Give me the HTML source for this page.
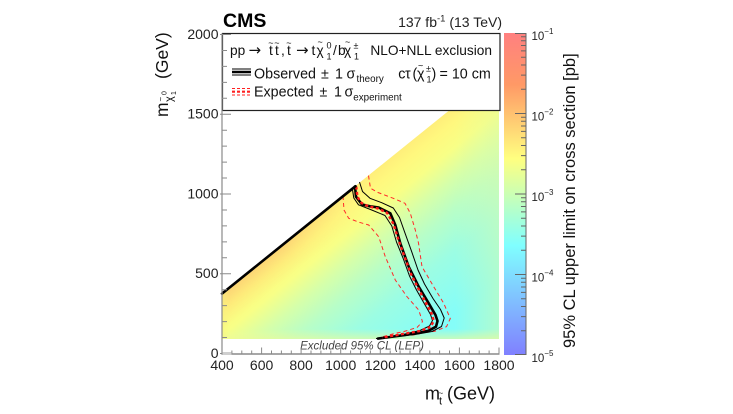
<!DOCTYPE html>
<html><head><meta charset="utf-8"><style>
html,body{margin:0;padding:0;background:#fff;}
svg{display:block;font-family:"Liberation Sans",Arial,sans-serif;}
</style></head><body>
<svg width="733" height="414" viewBox="0 0 733 414" xmlns="http://www.w3.org/2000/svg">
<defs>
<clipPath id="reg"><polygon points="222,293.4 499,70.3 499,339 222,339"/></clipPath>
<linearGradient id="field" gradientUnits="userSpaceOnUse" x1="340.7" y1="197.7" x2="441.8" y2="323.1">
<stop offset="0" stop-color="rgb(255,238,122)"/>
<stop offset="0.08" stop-color="rgb(255,248,126)"/>
<stop offset="0.2" stop-color="rgb(248,255,134)"/>
<stop offset="0.35" stop-color="rgb(213,255,170)"/>
<stop offset="0.5" stop-color="rgb(184,254,199)"/>
<stop offset="0.7" stop-color="rgb(156,253,227)"/>
<stop offset="1" stop-color="rgb(133,253,248)"/>
</linearGradient>
<linearGradient id="orange" gradientUnits="userSpaceOnUse" x1="340.7" y1="197.7" x2="441.8" y2="323.1">
<stop offset="0" stop-color="rgb(252,208,116)" stop-opacity="0.9"/>
<stop offset="0.09" stop-color="rgb(252,218,118)" stop-opacity="0.4"/>
<stop offset="0.18" stop-color="rgb(252,230,120)" stop-opacity="0"/>
</linearGradient>
<linearGradient id="fadeDiag" gradientUnits="userSpaceOnUse" x1="281.4" y1="245.5" x2="350.7" y2="189.7">
<stop offset="0" stop-color="#fff"/>
<stop offset="1" stop-color="#000"/>
</linearGradient>
<mask id="orMask" maskUnits="userSpaceOnUse" x="200" y="20" width="320" height="340">
<rect x="200" y="20" width="320" height="340" fill="url(#fadeDiag)"/>
</mask>
<linearGradient id="rightov" gradientUnits="userSpaceOnUse" x1="455" y1="0" x2="499" y2="0">
<stop offset="0" stop-color="rgb(228,250,160)" stop-opacity="0"/>
<stop offset="1" stop-color="rgb(228,250,160)" stop-opacity="0.45"/>
</linearGradient>
<linearGradient id="botov" gradientUnits="userSpaceOnUse" x1="0" y1="329" x2="0" y2="339">
<stop offset="0" stop-color="rgb(240,250,150)" stop-opacity="0"/>
<stop offset="1" stop-color="rgb(240,250,150)" stop-opacity="0.6"/>
</linearGradient>
<linearGradient id="leftov" gradientUnits="userSpaceOnUse" x1="222" y1="0" x2="230" y2="0">
<stop offset="0" stop-color="rgb(245,245,130)" stop-opacity="0.5"/>
<stop offset="1" stop-color="rgb(245,245,130)" stop-opacity="0"/>
</linearGradient>
<linearGradient id="cbar" x1="0" y1="0" x2="0" y2="1">
<stop offset="0" stop-color="rgb(255,128,128)"/>
<stop offset="0.16" stop-color="rgb(255,153,102)"/>
<stop offset="0.39" stop-color="rgb(255,255,128)"/>
<stop offset="0.66" stop-color="rgb(128,255,255)"/>
<stop offset="1" stop-color="rgb(128,128,255)"/>
</linearGradient>
</defs>

<!-- colored field -->
<g clip-path="url(#reg)">
<rect x="222" y="60" width="277" height="280" fill="url(#field)"/>
<rect x="222" y="60" width="277" height="280" fill="url(#orange)" mask="url(#orMask)"/>
<rect x="222" y="60" width="277" height="280" fill="url(#rightov)"/>
<rect x="222" y="60" width="277" height="280" fill="url(#botov)"/>
<rect x="222" y="60" width="277" height="280" fill="url(#leftov)"/>
</g>

<!-- LEP text -->
<text x="362" y="349.5" font-size="11.5" font-style="italic" fill="#444" text-anchor="middle">Excluded 95% CL (LEP)</text>

<!-- expected +-1 sigma (thin red dashed) -->
<g fill="none" stroke="#ff2a2a" stroke-width="1" stroke-dasharray="4 3" stroke-linejoin="round">
<polyline points="368.5,175.6 370.5,188.3 378,192.5 393.3,198.3 405,203.3 410.3,213.3 415.3,230 418.5,243 422,266.7 433.7,286.7 443.7,303.3 450.3,318.5 446.5,326.7 435,331.2 422,333 413.3,335 395,336.2 383,337.5"/>
<polyline points="343,196 344,210 348.7,218.3 358.3,222 368.7,225 378.7,236.7 385.3,256.7 395.3,280 407,296.7 418.7,310 422.5,321.7 417,327.5 403.3,331.7 395.3,333.3 380,337.5"/>
</g>
<!-- theory band (thin black) -->
<g fill="none" stroke="#000" stroke-width="1" stroke-linejoin="round">
<polyline points="352.3,188.5 353.8,198 358.5,204.8 371.7,210 385,215.5 391.8,226 396.5,242 403,258 409.5,276 416.5,290 424.5,304 430.5,314.5 432.5,320.5 429.5,326 420,330.5 405,334 385,337.5 376,338.5"/>
<polyline points="359.5,182 362.5,191.5 370,198.3 381.7,202.7 393.3,208 399.5,217.5 404.5,231.7 411.7,251.7 418,270 424.5,284 433,298.5 440.5,309.5 444.2,318 441.5,326.5 432,331.5 415,334.5 395,336.5 380,338.3"/>
</g>
<!-- observed (thick black) -->
<polyline fill="none" stroke="#000" stroke-width="2.6" stroke-linejoin="round" stroke-linecap="round" points="355,186.5 356,196.7 362,204.5 370,206.3 378.7,207.5 390.3,213.3 395.3,225 400.3,243.3 408.7,266.7 418.7,286.7 428.7,303.3 435.5,315 437.5,321 436,326.7 428.7,330.7 420,332.5 405.3,335 390,337 378,338.6"/>
<!-- expected (thick red dashed) -->
<polyline fill="none" stroke="#ff1a1a" stroke-width="2.4" stroke-dasharray="3 2.5" stroke-linejoin="round" points="356.2,186.5 357.5,197 361.5,203 368.3,206.3 378,208.5 387,212.8 393.5,224 398.5,240 405,258 411,274 418,288 426,303 431.8,314 433.8,321 430.5,327 420,331 400,334.5 382,337.6"/>

<!-- diagonal -->
<line x1="222" y1="293.6" x2="355.5" y2="186.2" stroke="#000" stroke-width="2.6" stroke-linecap="round"/>

<!-- legend box -->
<rect x="222.5" y="33.5" width="277.5" height="77" fill="#fff" stroke="#222" stroke-width="1.2"/>
<g font-size="13.7" fill="#111">
<text x="230" y="55">pp</text>
<text x="248.5" y="55" font-family="'DejaVu Sans',sans-serif" font-size="15">→</text>
<text x="269" y="55">t</text><text x="275" y="55">t</text>
<text x="268.3" y="46" font-size="9">~</text><text x="274.3" y="46" font-size="9">~</text>
<text x="281" y="55">,</text>
<text x="287" y="55">t</text><text x="286.3" y="46" font-size="9">~</text>
<text x="296" y="55" font-family="'DejaVu Sans',sans-serif" font-size="15">→</text>
<text x="311.5" y="55">t</text>
<text x="316.5" y="55">χ</text><text x="317.5" y="45" font-size="9">~</text>
<text x="326.5" y="48.5" font-size="9">0</text><text x="326.5" y="59.5" font-size="9">1</text>
<text x="333" y="55">/</text>
<text x="338" y="55">b</text>
<text x="344" y="55">χ</text><text x="345" y="45" font-size="9">~</text>
<text x="353.5" y="48.5" font-size="9">±</text><text x="354" y="59.5" font-size="9">1</text>
<text x="492" y="55" text-anchor="end">NLO+NLL exclusion</text>
</g>
<!-- legend symbols -->
<g stroke="#000">
<line x1="232" y1="69" x2="251" y2="69" stroke-width="1"/>
<line x1="232" y1="72" x2="251" y2="72" stroke-width="2.4"/>
<line x1="232" y1="75" x2="251" y2="75" stroke-width="1"/>
</g>
<g stroke="#ff2020" stroke-dasharray="3 2">
<line x1="232" y1="88.5" x2="251" y2="88.5" stroke-width="1"/>
<line x1="232" y1="91.7" x2="251" y2="91.7" stroke-width="2.2"/>
<line x1="232" y1="95" x2="251" y2="95" stroke-width="1"/>
</g>
<g font-size="14.3" fill="#111">
<text x="254" y="78.3">Observed</text>
<text x="321" y="78.3">±</text>
<text x="335" y="78.3">1</text>
<text x="346.5" y="78.3">σ</text>
<text x="356.5" y="82" font-size="9.8">theory</text>
<text x="398.3" y="78.3">c</text>
<text x="405" y="78.3">τ</text>
<text x="412.5" y="78.3">(</text>
<text x="417" y="78.3">χ</text><text x="418" y="68.5" font-size="9">~</text>
<text x="426" y="71.5" font-size="9">±</text><text x="426.5" y="82.5" font-size="9">1</text>
<text x="431.5" y="78.3">)</text>
<text x="439.5" y="78.3">= 10 cm</text>
<text x="254" y="96.3">Expected</text>
<text x="319.5" y="96.3">±</text>
<text x="334" y="96.3">1</text>
<text x="344.5" y="96.3">σ</text>
<text x="353.3" y="100.3" font-size="9.8">experiment</text>
</g>

<!-- axes -->
<g stroke="#8a8a8a" fill="none">
<line x1="222" y1="33.5" x2="222" y2="354.5" stroke-width="1.2"/>
<line x1="221.5" y1="354" x2="499.5" y2="354" stroke-width="1.5"/>
<path stroke-width="1" d="M220,353.5H231M220,273.75H231M220,194H231M220,114.25H231M220,34.5H231"/>
<path stroke-width="1" d="M222,337.55h5M222,321.6h5M222,305.65h5M222,289.7h5M222,257.8h5M222,241.85h5M222,225.9h5M222,209.95h5M222,178.05h5M222,162.1h5M222,146.15h5M222,130.2h5M222,98.3h5M222,82.35h5M222,66.4h5M222,50.45h5"/>
<path stroke-width="1" d="M222,354V347.5M261.6,354V347.5M301.1,354V347.5M340.7,354V347.5M380.3,354V347.5M419.9,354V347.5M459.4,354V347.5M499,354V347.5"/>
<path stroke-width="1" d="M231.9,354v-3.5M241.8,354v-3.5M251.7,354v-3.5M271.5,354v-3.5M281.4,354v-3.5M291.3,354v-3.5M311,354v-3.5M320.9,354v-3.5M330.8,354v-3.5M350.6,354v-3.5M360.5,354v-3.5M370.4,354v-3.5M390.2,354v-3.5M400.1,354v-3.5M410,354v-3.5M429.8,354v-3.5M439.6,354v-3.5M449.5,354v-3.5M469.3,354v-3.5M479.2,354v-3.5M489.1,354v-3.5"/>
</g>
<rect x="222.5" y="352" width="9" height="3" fill="#cfcfcf"/>

<!-- tick labels -->
<g font-size="14" fill="#222" text-anchor="end">
<text x="218.5" y="39">2000</text>
<text x="218.5" y="118.7">1500</text>
<text x="218.5" y="198.5">1000</text>
<text x="218.5" y="278.2">500</text>
<text x="218.5" y="358">0</text>
</g>
<g font-size="14" fill="#222" text-anchor="middle">
<text x="222" y="370">400</text>
<text x="261.6" y="370">600</text>
<text x="301.1" y="370">800</text>
<text x="340.7" y="370">1000</text>
<text x="380.3" y="370">1200</text>
<text x="419.9" y="370">1400</text>
<text x="459.4" y="370">1600</text>
<text x="499" y="370">1800</text>
</g>

<!-- axis titles -->
<g font-size="18" fill="#111">
<text x="425" y="399.5">m</text>
<text x="439" y="404.5" font-size="11">t</text>
<text x="438.5" y="396" font-size="8">~</text>
<text x="447" y="399.5">(GeV)</text>
</g>
<g transform="translate(168,117) rotate(-90)" font-size="17.5" fill="#111">
<text x="0" y="0">m</text>
<text x="15" y="4.5" font-size="11">χ</text>
<text x="15.5" y="-4.5" font-size="8">~</text>
<text x="22" y="-1.5" font-size="7">0</text>
<text x="22" y="8" font-size="7">1</text>
<text x="38" y="0">(GeV)</text>
</g>

<!-- CMS & lumi -->
<text x="223" y="27" font-size="19.5" font-weight="bold" fill="#000">CMS</text>
<text x="502" y="27" font-size="14" fill="#222" text-anchor="end">137 fb<tspan font-size="9.5" dy="-5.5">-1</tspan><tspan dy="5.5"> (13 TeV)</tspan></text>

<!-- colorbar -->
<rect x="504" y="33" width="22" height="322" fill="url(#cbar)"/>
<g stroke="#666" fill="none" stroke-width="1">
<line x1="526" y1="33" x2="526" y2="355"/>
<path d="M515,33.5H526M515,113.5H526M515,194H526M515,274.5H526M515,354.5H526"/>
<path d="M521,330.8h5M521,316.6h5M521,306.5h5M521,298.7h5M521,292.4h5M521,287h5M521,282.3h5M521,278.2h5M521,250.3h5M521,236.1h5M521,226h5M521,218.2h5M521,211.9h5M521,206.5h5M521,201.8h5M521,197.7h5M521,169.8h5M521,155.6h5M521,145.5h5M521,137.7h5M521,131.4h5M521,126h5M521,121.3h5M521,117.2h5M521,89.3h5M521,75.1h5M521,65h5M521,57.2h5M521,50.9h5M521,45.5h5M521,40.8h5M521,36.7h5"/>
</g>
<g font-size="11.5" fill="#222">
<text x="531.5" y="40">10<tspan font-size="8" dy="-6">−1</tspan></text>
<text x="531.5" y="120.5">10<tspan font-size="8" dy="-6">−2</tspan></text>
<text x="531.5" y="201">10<tspan font-size="8" dy="-6">−3</tspan></text>
<text x="531.5" y="281.5">10<tspan font-size="8" dy="-6">−4</tspan></text>
<text x="531.5" y="362">10<tspan font-size="8" dy="-6">−5</tspan></text>
</g>
<text transform="translate(575,348) rotate(-90)" font-size="16.5" fill="#111">95% CL upper limit on cross section [pb]</text>
</svg>
</body></html>
